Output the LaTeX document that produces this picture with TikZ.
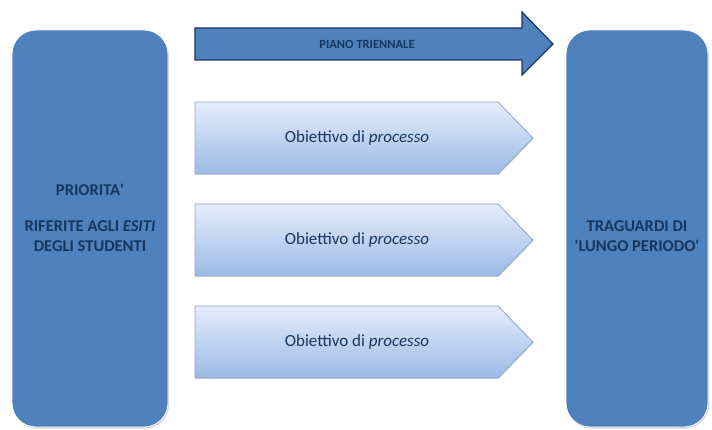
\documentclass[tikz,border=0pt]{standalone}
\usepackage{fontspec}
\setmainfont{Carlito}
\usetikzlibrary{shadows}
\definecolor{boxblue}{HTML}{4F81BD}
\definecolor{navy}{HTML}{17375E}
\definecolor{pentop}{HTML}{E5EDFB}
\definecolor{penbot}{HTML}{9CBAE7}
\definecolor{penedge}{HTML}{8EA6C8}
\tikzset{
  bigbox/.style={draw=white, line width=0.8pt, fill=boxblue, rounded corners=24pt,
     drop shadow={shadow xshift=1pt, shadow yshift=-1.5pt, opacity=0.35}},
  boxtext/.style={text=navy, font=\bfseries\fontsize{16.5}{20}\selectfont, align=center, inner sep=0pt},
  pentext/.style={text=navy, font=\fontsize{17}{20}\selectfont},
  arrowtext/.style={text=navy, font=\bfseries\fontsize{12.5}{14}\selectfont},
}
\begin{document}
\begin{tikzpicture}[x=1pt,y=-1pt]
\useasboundingbox (0,0) rectangle (712,430);
% left and right boxes
\draw[bigbox] (12,30) rectangle (168,427);
\node[boxtext] (prio) at (90,218) {PRIORITA\textquotesingle\\[16pt] RIFERITE AGLI \textit{ESITI}\\ DEGLI STUDENTI};
\draw[bigbox] (566,30) rectangle (708,427);
\node[boxtext] (trag) at (637,236) {TRAGUARDI DI\\ \textquotesingle LUNGO PERIODO\textquotesingle};
% top arrow
\draw[fill=boxblue, draw=navy, line width=1.2pt, line join=miter]
  (195,28) -- (522,28) -- (522,12) -- (553,44) -- (522,75) -- (522,60) -- (195,60) -- cycle;
\node[arrowtext] (piano) at (367,44) {PIANO TRIENNALE};
% pentagons
\foreach \y/\n in {102/p1,204/p2,306/p3}{
  \draw[penedge, line width=0.8pt, top color=pentop, bottom color=penbot,
        drop shadow={shadow xshift=0.8pt, shadow yshift=-1pt, opacity=0.25}]
    (195,\y) -- (498,\y) -- (533,\y+36) -- (498,\y+72) -- (195,\y+72) -- cycle;
  \node[pentext] (\n) at (357,\y+36) {Obiettivo di \textit{processo}};
}
\end{tikzpicture}
\end{document}
